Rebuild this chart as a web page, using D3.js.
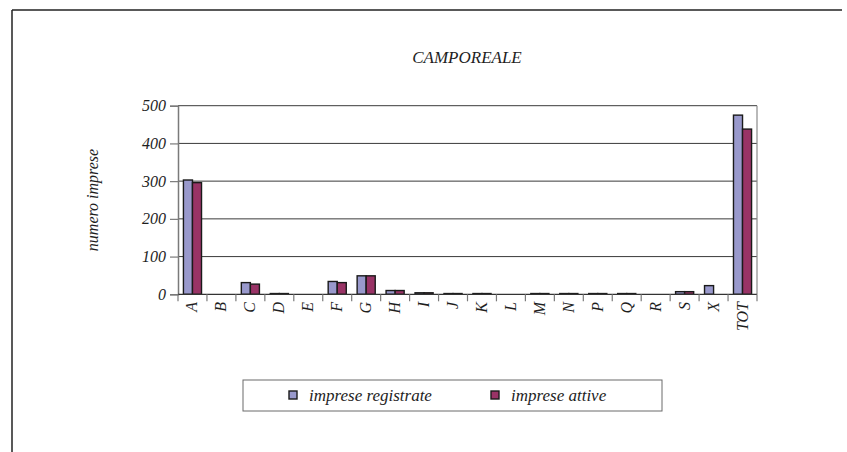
<!DOCTYPE html>
<html>
<head>
<meta charset="utf-8">
<script src="https://cdn.jsdelivr.net/npm/d3@7"></script>
</head>
<body style="margin:0;background:#fff">
<svg id="fig" width="847" height="452" font-family="Liberation Serif" font-style="italic"></svg>
<script>
// Imprese per sezione di attività economica – Camporeale
const chartTitle = "CAMPOREALE";
const yLabel = "numero imprese";
const categories = ["A","B","C","D","E","F","G","H","I","J","K","L","M","N","P","Q","R","S","X","TOT"];
const seriesNames = ["imprese registrate", "imprese attive"];
const registrate = [303, 0, 31, 2, 0, 34, 49, 10, 4, 2, 2, 0, 2, 2, 2, 2, 0, 7, 23, 475];
const attive     = [296, 0, 27, 2, 0, 31, 49, 10, 4, 2, 2, 0, 2, 2, 2, 2, 0, 7, 0, 438];
const yTicks = [0, 100, 200, 300, 400, 500];
const colors = ["#9999cc", "#993366"];

const FONT = "Liberation Serif";
const svg = d3.select("#fig");

function styleText(sel, size) {
  return sel.attr("font-family", FONT).attr("font-style", "italic")
    .attr("font-size", size).attr("fill", "#1e1e1e");
}

// outer frame (top and left edges)
svg.append("line").attr("x1", 12).attr("y1", 10).attr("x2", 842).attr("y2", 10)
  .attr("stroke", "#222").attr("stroke-width", 1.5);
svg.append("line").attr("x1", 12).attr("y1", 10).attr("x2", 12).attr("y2", 452)
  .attr("stroke", "#222").attr("stroke-width", 1.5);

const plot = { left: 178, right: 757, top: 105.7, bottom: 294.3 };

const xScale = d3.scaleBand().domain(categories).range([plot.left, plot.right]).padding(0);
const xInner = d3.scaleBand().domain(seriesNames).range([0, xScale.bandwidth()]).paddingInner(0).paddingOuter(0.6);
const yScale = d3.scaleLinear().domain([0, 500]).range([plot.bottom, plot.top]);

// title
styleText(svg.append("text"), 17).attr("x", 467).attr("y", 63)
  .attr("text-anchor", "middle").text(chartTitle);

// horizontal gridlines
svg.append("g").selectAll("line").data(yTicks.filter(d => d > 0)).join("line")
  .attr("x1", plot.left).attr("x2", plot.right)
  .attr("y1", d => yScale(d)).attr("y2", d => yScale(d))
  .attr("stroke", "#3a3a3a").attr("stroke-width", 1);

// right edge of plot area
svg.append("line").attr("x1", plot.right).attr("x2", plot.right)
  .attr("y1", yScale(500)).attr("y2", yScale(0)).attr("stroke", "#8a8a8a").attr("stroke-width", 1.2);

// y axis: line and ticks from d3.axisLeft, labels placed with the same scale
const yAxis = svg.append("g").attr("transform", `translate(${plot.left},0)`)
  .call(d3.axisLeft(yScale).tickValues(yTicks).tickSize(8).tickFormat(""));
yAxis.select(".domain").attr("stroke", "#7a7a7a").attr("stroke-width", 1.5);
yAxis.selectAll(".tick line").attr("stroke", "#7a7a7a").attr("stroke-width", 1.2);
yAxis.selectAll(".tick text").remove();
styleText(svg.append("g").selectAll("text").data(yTicks).join("text"), 16)
  .attr("x", plot.left - 12).attr("y", d => yScale(d)).attr("dy", "0.34em")
  .attr("text-anchor", "end").text(d => d3.format("d")(d));

// y axis title
styleText(svg.append("text"), 16)
  .attr("transform", `translate(98,${(plot.top + plot.bottom) / 2}) rotate(-90)`)
  .attr("text-anchor", "middle").text(yLabel);

// bars
const rows = categories.map((c, i) => ({ c, vals: [registrate[i], attive[i]] }));
const groups = svg.append("g").selectAll("g").data(rows).join("g")
  .attr("transform", d => `translate(${xScale(d.c)},0)`);
groups.selectAll("rect")
  .data(d => d.vals.map((v, k) => ({ k, v })).filter(e => e.v > 0))
  .join("rect")
  .attr("x", e => xInner(seriesNames[e.k]))
  .attr("width", xInner.bandwidth())
  .attr("y", e => yScale(e.v))
  .attr("height", e => yScale(0) - yScale(e.v))
  .attr("fill", e => colors[e.k])
  .attr("stroke", "#1a1a1a").attr("stroke-width", 1.4);

// x axis baseline and boundary ticks
svg.append("line").attr("x1", plot.left).attr("x2", plot.right)
  .attr("y1", yScale(0)).attr("y2", yScale(0)).attr("stroke", "#333").attr("stroke-width", 1.3);
const bounds = categories.map(c => xScale(c)).concat([plot.right]);
svg.append("g").selectAll("line").data(bounds).join("line")
  .attr("x1", d => d).attr("x2", d => d)
  .attr("y1", yScale(0)).attr("y2", yScale(0) + 7)
  .attr("stroke", "#7a7a7a").attr("stroke-width", 1.2);

// category labels, rotated
styleText(svg.append("g").selectAll("text").data(categories).join("text"), 16)
  .attr("transform", c => `translate(${xScale(c) + xScale.bandwidth() / 2 + 5},302) rotate(-90)`)
  .attr("text-anchor", "end").text(c => c);

// legend
const lg = svg.append("g");
lg.append("rect").attr("x", 243).attr("y", 380).attr("width", 419).attr("height", 31)
  .attr("fill", "none").attr("stroke", "#6a6a6a").attr("stroke-width", 1);
const legendX = [289, 491];
seriesNames.forEach((name, k) => {
  lg.append("rect").attr("x", legendX[k]).attr("y", 391).attr("width", 8).attr("height", 8)
    .attr("fill", colors[k]).attr("stroke", "#1a1a1a").attr("stroke-width", 1.4);
  styleText(lg.append("text"), 17).attr("x", legendX[k] + 20).attr("y", 401).text(name);
});
</script>
</body>
</html>
